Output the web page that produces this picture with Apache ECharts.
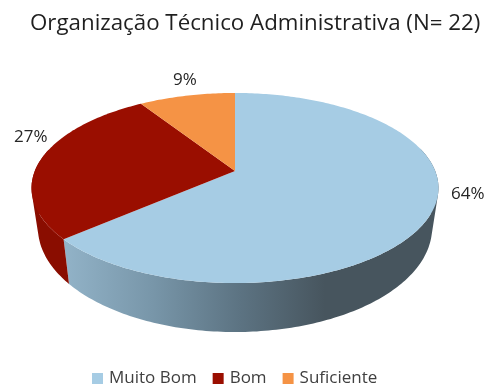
<!DOCTYPE html>
<html>
<head>
<meta charset="utf-8">
<style>html,body{margin:0;padding:0;background:#fff}#c{width:491px;height:385px}</style>
<script src="https://cdn.jsdelivr.net/npm/echarts@6/dist/echarts.min.js"></script>
</head>
<body>
<div id="c"></div>
<script>
var categories = ['Muito Bom', 'Bom', 'Suficiente'];
var values = [14, 6, 2];
var percentLabels = ['64%', '27%', '9%'];
var topColors = ['#a6cce4', '#9a0e00', '#f59345'];
var labelOffsets = [[36, -18], [-11, -21], [-2, -16]];

var FONT = '"Open Sans", sans-serif';
var total = values.reduce(function (a, b) { return a + b; }, 0);

// Perspective projection of the disc (top face and bottom face)
var topFace = { cx: 235, y0: 171, m: 200.2, k: 92, c: -0.179 };
var bottomFace = { cx: 235, y0: 209, m: 193.9, k: 101, c: -0.179 };

function project(face, theta) {
  var u = Math.sin(theta), v = -Math.cos(theta), d = 1 + face.c * v;
  return [face.cx + face.m * u / d, face.y0 + face.k * v / d];
}
function arc(face, a0, a1) {
  var pts = [], n = Math.max(8, Math.ceil((a1 - a0) * 60));
  for (var i = 0; i <= n; i++) pts.push(project(face, a0 + (a1 - a0) * i / n));
  return pts;
}
function signedArea(q) {
  var s = 0;
  for (var i = 0; i < q.length; i++) {
    var p = q[i], r = q[(i + 1) % q.length];
    s += p[0] * r[1] - r[0] * p[1];
  }
  return s;
}
// One path made of many quads, all wound the same way: swept between both faces, without seams
echarts.graphic.registerShape('wallStrip', echarts.graphic.extendShape({
  shape: { quads: [] },
  buildPath: function (ctx, shape) {
    shape.quads.forEach(function (q) {
      ctx.moveTo(q[0][0], q[0][1]);
      ctx.lineTo(q[1][0], q[1][1]);
      ctx.lineTo(q[2][0], q[2][1]);
      ctx.lineTo(q[3][0], q[3][1]);
      ctx.closePath();
    });
  }
}));
var wallFills = [
  new echarts.graphic.LinearGradient(60, 0, 325, 0, [
    { offset: 0, color: '#93b4c9' },
    { offset: 0.35, color: '#7896a9' },
    { offset: 0.68, color: '#5c7382' },
    { offset: 1, color: '#47555e' }
  ], true),
  '#8a0d00',
  '#d9802f'
];

function makeRenderer(index) {
  var before = values.slice(0, index).reduce(function (a, b) { return a + b; }, 0);
  return function (params, api) {
    var a0 = before / total * Math.PI * 2;
    var a1 = (before + api.value(0)) / total * Math.PI * 2;
    var topArc = arc(topFace, a0, a1);
    var botArc = arc(bottomFace, a0, a1);
    var anchor = project(topFace, (a0 + a1) / 2);
    var quads = [];
    for (var i = 0; i < topArc.length - 1; i++) {
      var mid = a0 + (a1 - a0) * (i + 0.5) / (topArc.length - 1);
      if (Math.cos(mid) < 0.25) {
        var q = [topArc[i], topArc[i + 1], botArc[i + 1], botArc[i]];
        quads.push(signedArea(q) < 0 ? q.reverse() : q);
      }
    }
    return {
      type: 'group',
      children: [
        { type: 'wallStrip', z2: 1, shape: { quads: quads }, style: { fill: wallFills[index] } },
        { type: 'polygon', z2: 10, shape: { points: topArc.concat([[topFace.cx, topFace.y0]]) }, style: { fill: topColors[index] } },
        { type: 'text', z2: 20, style: {
            text: percentLabels[index],
            x: anchor[0] + labelOffsets[index][0],
            y: anchor[1] + labelOffsets[index][1],
            align: 'center', verticalAlign: 'middle',
            font: '17px ' + FONT, fill: '#262626'
        } }
      ]
    };
  };
}

var chart = echarts.init(document.getElementById('c'), null, { renderer: 'canvas' });
chart.setOption({
  animation: false,
  title: {
    text: 'Organização Técnico Administrativa (N= 22)',
    left: 25, top: 8,
    textStyle: { fontFamily: FONT, fontSize: 22.3, fontWeight: 'normal', color: '#1f1f1f' }
  },
  legend: {
    left: 87, top: 365,
    icon: 'rect', itemWidth: 11, itemHeight: 11, itemGap: 16,
    selectedMode: false,
    textStyle: { fontFamily: FONT, fontSize: 17, color: '#404040', padding: [0, 0, 0, 1] },
    data: categories
  },
  series: categories.map(function (name, i) {
    return {
      type: 'custom', name: name, coordinateSystem: 'none', silent: true,
      itemStyle: { color: topColors[i] },
      renderItem: makeRenderer(i),
      data: [[values[i]]]
    };
  })
});
</script>
</body>
</html>
